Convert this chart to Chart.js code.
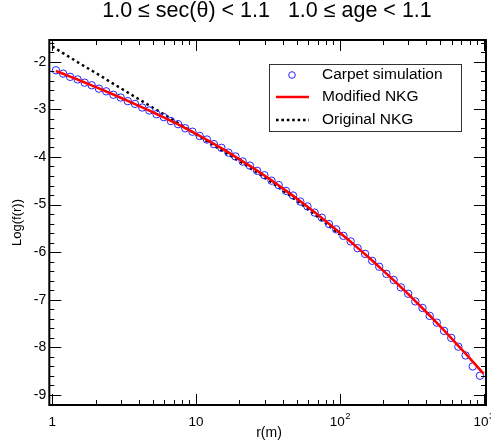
<!DOCTYPE html>
<html>
<head>
<meta charset="utf-8">
<script src="https://cdn.jsdelivr.net/npm/chart.js@4/dist/chart.umd.min.js"></script>
<style>
  html, body { margin: 0; padding: 0; background: #fff; }
  canvas { display: block; }
</style>
</head>
<body>
<canvas id="nkg" width="491" height="445"></canvas>
<script>
// r (m) of the carpet bins, log-spaced
const radius = [
  1.06, 1.19, 1.33, 1.50, 1.68, 1.88, 2.11, 2.37, 2.66, 2.99,
  3.35, 3.76, 4.22, 4.73, 5.31, 5.96, 6.68, 7.50, 8.41, 9.44,
  10.6, 11.9, 13.3, 15.0, 16.8, 18.8, 21.1, 23.7, 26.6, 29.9,
  33.5, 37.6, 42.2, 47.3, 53.1, 59.6, 66.8, 75.0, 84.1, 94.4,
  106, 119, 133, 150, 168, 188, 211, 237, 266, 299,
  335, 376, 422, 473, 531, 596, 668, 750, 841, 944
];
const carpetLog = [
  -2.180, -2.250, -2.318, -2.372, -2.440, -2.495, -2.566, -2.622, -2.694, -2.752,
  -2.828, -2.886, -2.962, -3.024, -3.103, -3.164, -3.246, -3.312, -3.398, -3.470,
  -3.560, -3.634, -3.730, -3.808, -3.910, -3.990, -4.096, -4.182, -4.292, -4.384,
  -4.498, -4.592, -4.712, -4.810, -4.936, -5.040, -5.168, -5.276, -5.410, -5.520,
  -5.658, -5.774, -5.916, -6.036, -6.182, -6.306, -6.456, -6.584, -6.740, -6.874,
  -7.034, -7.172, -7.338, -7.480, -7.652, -7.800, -7.985, -8.170, -8.400, -8.595
];
const modR = radius.concat([1000]);
const modLog = [
  -2.194, -2.253, -2.313, -2.374, -2.436, -2.498, -2.561, -2.625, -2.690, -2.756,
  -2.823, -2.891, -2.959, -3.028, -3.098, -3.169, -3.242, -3.317, -3.395, -3.475,
  -3.556, -3.640, -3.726, -3.814, -3.905, -3.997, -4.092, -4.189, -4.288, -4.390,
  -4.493, -4.599, -4.708, -4.818, -4.931, -5.046, -5.163, -5.282, -5.404, -5.527,
  -5.653, -5.780, -5.910, -6.042, -6.176, -6.312, -6.450, -6.591, -6.734, -6.880,
  -7.028, -7.178, -7.331, -7.486, -7.644, -7.804, -7.966, -8.131, -8.298, -8.468,
  -8.550
];
const origR = [1, 1.26, 1.58, 2.0, 2.51, 3.16, 3.98, 5.01, 6.31, 7.94, 10,
  12.6, 15.8, 20.0, 25.1, 31.6, 39.8, 50.1, 63.1, 79.4, 100];
const origLog = [-1.68, -1.868, -2.051, -2.234, -2.417, -2.600, -2.783, -2.966, -3.149, -3.335, -3.525,
  -3.715, -3.900, -4.085, -4.280, -4.480, -4.695, -4.915, -5.145, -5.385, -5.630];

const seriesNames = ['Carpet simulation', 'Modified NKG', 'Original NKG'];
const xTicks = [1, 10, 100, 1000];
const xTickBase = ['1', '10', '10', '10'];
const xTickExp = ['', '', '2', '3'];
const yTicks = [-2, -3, -4, -5, -6, -7, -8, -9];
const titleText = '1.0 \u2264 sec(\u03B8) < 1.1   1.0 \u2264 age < 1.1';

const FONT = '"Liberation Sans", Arial, sans-serif';

const toPoints = (xs, ys) => xs.map((v, i) => ({ x: v, y: ys[i] }));

// frame, inward ticks, labels, title and legend
const decor = {
  id: 'decor',
  afterDraw(chart) {
    const { ctx, chartArea: a } = chart;
    const x = chart.scales.x, y = chart.scales.y;
    const seg = (x1, y1, x2, y2) => { ctx.beginPath(); ctx.moveTo(x1, y1); ctx.lineTo(x2, y2); ctx.stroke(); };
    ctx.save();
    ctx.strokeStyle = '#000';

    // x ticks
    ctx.lineWidth = 1;
    for (let d = 1; d <= 1000; d *= 10) {
      for (let m = 1; m <= 9; m++) {
        const v = d * m;
        if (v > x.max) break;
        const px = Math.round(x.getPixelForValue(v)) + 0.5;
        const len = m === 1 ? 11 : 5;
        seg(px, a.bottom, px, a.bottom - len);
        seg(px, a.top, px, a.top + len);
      }
    }
    // y ticks
    for (let v = -9.2; v <= -1.55; v += 0.2) {
      const val = Math.round(v * 10) / 10;
      const py = Math.round(y.getPixelForValue(val)) + 0.5;
      const major = Math.abs(val - Math.round(val)) < 1e-6;
      const len = major ? 12 : 5;
      seg(a.left, py, a.left + len, py);
      seg(a.right, py, a.right - len, py);
    }

    // frame
    ctx.lineWidth = 2;
    ctx.strokeRect(a.left, a.top, a.right - a.left, a.bottom - a.top);

    ctx.fillStyle = '#000';
    // y labels
    ctx.font = '14px ' + FONT;
    ctx.textAlign = 'right';
    ctx.textBaseline = 'middle';
    yTicks.forEach(t => ctx.fillText(String(t), a.left - 3, y.getPixelForValue(t)));

    // x labels
    xTicks.forEach((t, i) => {
      const px = x.getPixelForValue(t);
      ctx.font = '13.5px ' + FONT;
      const bw = ctx.measureText(xTickBase[i]).width;
      ctx.font = '9.5px ' + FONT;
      const ew = xTickExp[i] ? ctx.measureText(xTickExp[i]).width : 0;
      const start = px - (bw + ew) / 2;
      ctx.textAlign = 'left';
      ctx.textBaseline = 'middle';
      ctx.font = '13.5px ' + FONT;
      ctx.fillText(xTickBase[i], start, 422);
      if (xTickExp[i]) {
        ctx.font = '9.5px ' + FONT;
        ctx.fillText(xTickExp[i], start + bw + 0.5, 416);
      }
    });

    // axis titles
    ctx.font = '14px ' + FONT;
    ctx.textAlign = 'center';
    ctx.fillText('r(m)', 269, 433);
    ctx.font = '13px ' + FONT;
    ctx.save();
    ctx.translate(17, (a.top + a.bottom) / 2);
    ctx.rotate(-Math.PI / 2);
    ctx.fillText('Log(f(r))', 0, 0);
    ctx.restore();

    // title
    ctx.font = '21.5px ' + FONT;
    ctx.textBaseline = 'alphabetic';
    ctx.fillText(titleText, 267, 17);

    // legend
    const lx = 269.5, ly = 64, lw = 192, lh = 67;
    ctx.fillStyle = '#fff';
    ctx.fillRect(lx, ly, lw, lh);
    ctx.lineWidth = 1;
    ctx.strokeStyle = '#333';
    ctx.strokeRect(lx, ly + 0.5, lw, lh);
    const rows = [75, 97, 120];
    ctx.strokeStyle = '#2222ff';
    ctx.beginPath(); ctx.arc(292, rows[0], 3.3, 0, Math.PI * 2); ctx.stroke();
    ctx.strokeStyle = '#ff0000'; ctx.lineWidth = 2.5;
    seg(276, rows[1], 309, rows[1]);
    ctx.strokeStyle = '#000'; ctx.lineWidth = 2.5; ctx.setLineDash([2.6, 2.8]);
    seg(276, rows[2], 309, rows[2]);
    ctx.setLineDash([]);
    ctx.fillStyle = '#000';
    ctx.font = '15.5px ' + FONT;
    ctx.textAlign = 'left';
    ctx.textBaseline = 'middle';
    seriesNames.forEach((n, i) => ctx.fillText(n, 322, rows[i]));
    ctx.restore();
  }
};

new Chart(document.getElementById('nkg'), {
  type: 'scatter',
  data: {
    datasets: [
      {
        label: seriesNames[0],
        data: toPoints(radius, carpetLog),
        pointStyle: 'circle',
        pointRadius: 3.7,
        pointBorderWidth: 1,
        pointBorderColor: '#2222ff',
        pointBackgroundColor: 'rgba(0,0,0,0)',
        showLine: false,
        order: 1
      },
      {
        label: seriesNames[1],
        data: toPoints(modR, modLog),
        showLine: true,
        borderColor: '#ff0000',
        borderWidth: 2.6,
        pointRadius: 0,
        order: 0
      },
      {
        label: seriesNames[2],
        data: toPoints(origR, origLog),
        showLine: true,
        borderColor: '#000',
        borderWidth: 2.5,
        borderDash: [2.6, 3.2],
        pointRadius: 0,
        order: 2
      }
    ]
  },
  options: {
    responsive: false,
    animation: false,
    devicePixelRatio: 1,
    layout: { padding: { left: 49.3, right: 3.3, top: 40, bottom: 40 } },
    plugins: { legend: { display: false }, title: { display: false }, tooltip: { enabled: false } },
    scales: {
      x: { type: 'logarithmic', min: 0.953, max: 1040, display: false },
      y: { type: 'linear', min: -9.21, max: -1.544, display: false }
    }
  },
  plugins: [decor]
});
</script>
</body>
</html>
